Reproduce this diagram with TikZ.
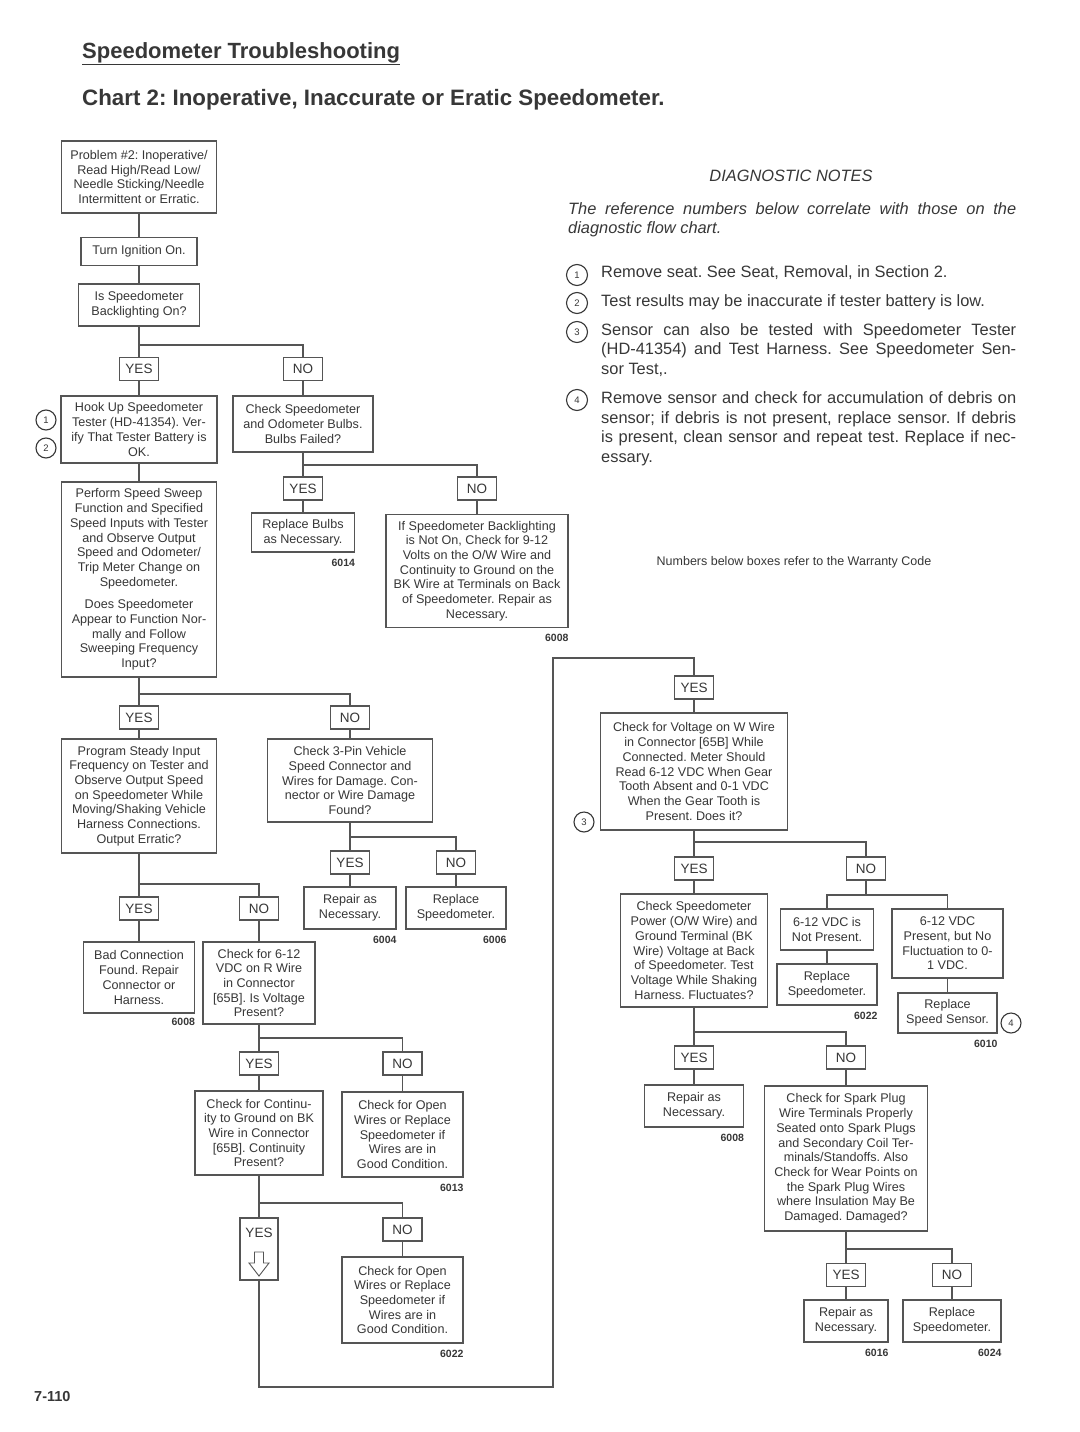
\documentclass[tikz,border=0pt]{standalone}
\usepackage{fontspec}
\setmainfont{Liberation Sans}
\usetikzlibrary{calc}
\frenchspacing
\definecolor{ink}{RGB}{55,55,55}
\definecolor{wire}{RGB}{85,85,85}
\newcommand{\bxf}{\fontsize{12.6}{14.7}\selectfont}
\newcommand{\ntf}{\fontsize{16.4}{19.7}\selectfont}
\newcommand{\jl}[1]{\makebox[415pt][s]{#1}}
\begin{document}
\frenchspacing
\begin{tikzpicture}[x=1pt,y=-1pt,
  box/.style={draw=wire, line width=1.4pt, rectangle, inner sep=0pt, align=center, font=\bxf, text=ink},
  yn/.style={draw=wire, line width=1.4pt, rectangle, inner sep=0pt, minimum width=39pt, minimum height=23pt, font=\fontsize{13.5}{15}\selectfont, text=ink},
  wcode/.style={font=\bfseries\fontsize{10.5}{12}\selectfont, text=ink, inner sep=0pt, anchor=north east},
  refc/.style={circle, draw=ink, line width=1.1pt, minimum size=20pt, inner sep=0pt, font=\fontsize{9.5}{9.5}\selectfont, text=ink},
  conn/.style={draw=wire, line width=1.4pt},
  note/.style={anchor=north west, inner sep=0pt, align=left, font=\ntf, text=ink}]
\useasboundingbox[fill=white] (0,0) rectangle (1079,1432);

% titles
\node[anchor=base west, inner sep=0pt, font=\bfseries\fontsize{22}{25}\selectfont, text=ink] (title) at (82,58) {\underline{Speedometer Troubleshooting}};
\node[anchor=base west, inner sep=0pt, font=\bfseries\fontsize{22.3}{26}\selectfont, text=ink] (chart) at (82,105) {Chart 2: Inoperative, Inaccurate or Eratic Speedometer.};
\node[anchor=base west, inner sep=0pt, font=\bfseries\fontsize{14.5}{16}\selectfont, text=ink] (page) at (34,1401) {7-110};

% notes
\node[font=\ntf\itshape, text=ink, inner sep=0pt] (dn) at (791,176) {DIAGNOSTIC NOTES};
\node[note, font=\ntf\itshape] (intro) at (568,202) {\makebox[448pt][s]{The reference numbers below correlate with those on the}\\diagnostic flow chart.};
\node[refc, minimum size=21pt] (nr1) at (577,275) {1};
\node[refc, minimum size=21pt] (nr2) at (577,303) {2};
\node[refc, minimum size=21pt] (nr3) at (577,332) {3};
\node[refc, minimum size=21pt] (nr4) at (577,400) {4};
\node[note] (t1) at (601,265.5) {Remove seat. See Seat, Removal, in Section 2.};
\node[note] (t2) at (601,294) {Test results may be inaccurate if tester battery is low.};
\node[note] (t3) at (601,323) {\jl{Sensor can also be tested with Speedometer Tester}\\\jl{(HD-41354) and Test Harness. See Speedometer Sen-}\\sor Test,.};
\node[note] (t4) at (601,391.5) {\jl{Remove sensor and check for accumulation of debris on}\\\jl{sensor; if debris is not present, replace sensor. If debris}\\\jl{is present, clean sensor and repeat test. Replace if nec-}\\essary.};
\node[font=\fontsize{12.5}{14}\selectfont, text=ink, inner sep=0pt] (warr) at (794,562) {Numbers below boxes refer to the Warranty Code};

% left column
\node[box, minimum width=155pt, minimum height=72pt] (b1) at (139,177) {Problem \#2: Inoperative/\\Read High/Read Low/\\Needle Sticking/Needle\\Intermittent or Erratic.};
\node[box, minimum width=116pt, minimum height=28pt] (b2) at (139,251.5) {Turn Ignition On.};
\node[box, minimum width=121pt, minimum height=42pt] (b3) at (139,305) {Is Speedometer\\Backlighting On?};
\node[yn] (y1) at (139,369) {YES};
\node[yn] (n1) at (303,369) {NO};
\node[box, minimum width=156pt, minimum height=67pt] (b4) at (139,429.5) {Hook Up Speedometer\\Tester (HD-41354). Ver-\\ify That Tester Battery is\\OK.};
\node[refc] (r1) at (46,420) {1};
\node[refc] (r2) at (46,448) {2};
\node[box, minimum width=140pt, minimum height=56pt] (b5) at (303,424) {Check Speedometer\\and Odometer Bulbs.\\Bulbs Failed?};
\node[yn] (y2) at (303,488.5) {YES};
\node[yn] (n2) at (477,488.5) {NO};
\node[box, minimum width=103pt, minimum height=39pt] (b6) at (303,532.5) {Replace Bulbs\\as Necessary.};
\node[wcode] (k1) at ([yshift=-6pt]b6.south east) {6014};
\node[box, minimum width=182pt, minimum height=113pt] (b7) at (477,571) {If Speedometer Backlighting\\is Not On, Check for 9-12\\Volts on the O/W Wire and\\Continuity to Ground on the\\BK Wire at Terminals on Back\\of Speedometer. Repair as\\Necessary.};
\node[wcode] (k2) at ([yshift=-6pt]b7.south east) {6008};
\node[box, minimum width=155pt, minimum height=195pt] (b8) at (139,579.5) {Perform Speed Sweep\\Function and Specified\\Speed Inputs with Tester\\and Observe Output\\Speed and Odometer/\\Trip Meter Change on\\Speedometer.\\[8pt]Does Speedometer\\Appear to Function Nor-\\mally and Follow\\Sweeping Frequency\\Input?};
\node[yn] (y3) at (139,717.5) {YES};
\node[yn] (n3) at (350,717.5) {NO};
\node[box, minimum width=155pt, minimum height=114pt] (b9) at (139,796) {Program Steady Input\\Frequency on Tester and\\Observe Output Speed\\on Speedometer While\\Moving/Shaking Vehicle\\Harness Connections.\\Output Erratic?};
\node[box, minimum width=165pt, minimum height=83pt] (b10) at (350,780.5) {Check 3-Pin Vehicle\\Speed Connector and\\Wires for Damage. Con-\\nector or Wire Damage\\Found?};
\node[yn] (y4) at (350,862.5) {YES};
\node[yn] (n4) at (456,862.5) {NO};
\node[box, minimum width=92pt, minimum height=42pt] (b11) at (350,908) {Repair as\\Necessary.};
\node[wcode] (k3) at ([yshift=-6pt]b11.south east) {6004};
\node[box, minimum width=100pt, minimum height=42pt] (b12) at (456,908) {Replace\\Speedometer.};
\node[wcode] (k4) at ([yshift=-6pt]b12.south east) {6006};
\node[yn] (y5) at (139,908.5) {YES};
\node[yn] (n5) at (259,908.5) {NO};
\node[box, minimum width=111pt, minimum height=71pt] (b13) at (139,977.5) {Bad Connection\\Found. Repair\\Connector or\\Harness.};
\node[wcode] (k5) at ([yshift=-4pt]b13.south east) {6008};
\node[box, minimum width=112pt, minimum height=82pt] (b14) at (259,983) {Check for 6-12\\VDC on R Wire\\in Connector\\{[65B]}. Is Voltage\\Present?};
\node[yn] (y6) at (259,1063.5) {YES};
\node[yn] (n6) at (402.5,1063.5) {NO};
\node[box, minimum width=128pt, minimum height=84pt] (b15) at (259,1133) {Check for Continu-\\ity to Ground on BK\\Wire in Connector\\{[65B]}. Continuity\\Present?};
\node[box, minimum width=121pt, minimum height=85pt] (b16) at (402.5,1134.5) {Check for Open\\Wires or Replace\\Speedometer if\\Wires are in\\Good Condition.};
\node[wcode] (k6) at ([yshift=-6pt]b16.south east) {6013};
\node[draw=wire, line width=1.4pt, rectangle, inner sep=0pt, minimum width=38pt, minimum height=62pt] (y7) at (259,1249) {};
\node[font=\fontsize{13.5}{15}\selectfont, text=ink, inner sep=0pt] (y7t) at (259,1233) {YES};
\draw[draw=wire, line width=0.9pt, line join=miter] ($(y7.center)+(-4.5,3)$) -- ++(9,0) -- ++(0,11) -- ++(5.5,0) -- ($(y7.center)+(0,27)$) -- ($(y7.center)+(-10,14)$) -- ++(5.5,0) -- cycle;
\node[yn] (n7) at (402.5,1229.5) {NO};
\node[box, minimum width=121pt, minimum height=86pt] (b17) at (402.5,1300) {Check for Open\\Wires or Replace\\Speedometer if\\Wires are in\\Good Condition.};
\node[wcode] (k7) at ([yshift=-6pt]b17.south east) {6022};

% right column
\coordinate (lb) at (553,1387);
\coordinate (lt) at (553,658);
\node[yn] (y8) at (694,687.5) {YES};
\node[box, minimum width=187pt, minimum height=117pt] (b18) at (694,771.5) {Check for Voltage on W Wire\\in Connector [65B] While\\Connected. Meter Should\\Read 6-12 VDC When Gear\\Tooth Absent and 0-1 VDC\\When the Gear Tooth is\\Present. Does it?};
\node[refc] (r3) at (584,822) {3};
\node[yn] (y9) at (694,868.5) {YES};
\node[yn] (n9) at (866,868.5) {NO};
\node[box, minimum width=147pt, minimum height=113pt] (b19) at (694,950.5) {Check Speedometer\\Power (O/W Wire) and\\Ground Terminal (BK\\Wire) Voltage at Back\\of Speedometer. Test\\Voltage While Shaking\\Harness. Fluctuates?};
\node[box, minimum width=93pt, minimum height=41pt] (b20) at (827,929.5) {6-12 VDC is\\Not Present.};
\node[box, minimum width=100pt, minimum height=41pt] (b21) at (827,984.5) {Replace\\Speedometer.};
\node[wcode] (k8) at ([yshift=-6pt]b21.south east) {6022};
\node[box, minimum width=111pt, minimum height=69pt] (b22) at (947.5,943.5) {6-12 VDC\\Present, but No\\Fluctuation to 0-\\1 VDC.};
\node[box, minimum width=99pt, minimum height=40pt] (b23) at (947.5,1013) {Replace\\Speed Sensor.};
\node[wcode] (k9) at ([yshift=-6pt]b23.south east) {6010};
\node[refc] (r4) at (1011,1023) {4};
\node[yn] (y10) at (694,1057.5) {YES};
\node[yn] (n10) at (846,1057.5) {NO};
\node[box, minimum width=99pt, minimum height=42pt] (b24) at (694,1106) {Repair as\\Necessary.};
\node[wcode] (k10) at ([yshift=-6pt]b24.south east) {6008};
\node[box, minimum width=163pt, minimum height=145pt] (b25) at (846,1158.5) {Check for Spark Plug\\Wire Terminals Properly\\Seated onto Spark Plugs\\and Secondary Coil Ter-\\minals/Standoffs. Also\\Check for Wear Points on\\the Spark Plug Wires\\where Insulation May Be\\Damaged. Damaged?};
\node[yn] (y11) at (846,1275) {YES};
\node[yn] (n11) at (952,1275) {NO};
\node[box, minimum width=84pt, minimum height=42pt] (b26) at (846,1321) {Repair as\\Necessary.};
\node[wcode] (k11) at ([yshift=-6pt]b26.south east) {6016};
\node[box, minimum width=98pt, minimum height=42pt] (b27) at (952,1321) {Replace\\Speedometer.};
\node[wcode] (k12) at ([yshift=-6pt]b27.south east) {6024};

% connectors
\draw[conn] (b1.south) -- (b2.north);
\draw[conn] (b2.south) -- (b3.north);
\draw[conn] (b3.south) -- (y1.north);
\draw[conn] (b3.south |- 0,345) -| (n1.north);
\draw[conn] (y1.south) -- (b4.north);
\draw[conn] (n1.south) -- (b5.north);
\draw[conn] (b5.south) -- (y2.north);
\draw[conn] (b5.south |- 0,465) -| (n2.north);
\draw[conn] (y2.south) -- (b6.north);
\draw[conn] (n2.south) -- (b7.north);
\draw[conn] (b4.south) -- (b8.north);
\draw[conn] (b8.south) -- (y3.north);
\draw[conn] (b8.south |- 0,694) -| (n3.north);
\draw[conn] (y3.south) -- (b9.north);
\draw[conn] (n3.south) -- (b10.north);
\draw[conn] (b10.south) -- (y4.north);
\draw[conn] (b10.south |- 0,837) -| (n4.north);
\draw[conn] (y4.south) -- (b11.north);
\draw[conn] (n4.south) -- (b12.north);
\draw[conn] (b9.south) -- (y5.north);
\draw[conn] (b9.south |- 0,884) -| (n5.north);
\draw[conn] (y5.south) -- (b13.north);
\draw[conn] (n5.south) -- (b14.north);
\draw[conn] (b14.south) -- (y6.north);
\draw[conn] (b14.south |- 0,1038) -| (n6.north);
\draw[conn] (y6.south) -- (b15.north);
\draw[conn] (n6.south) -- (b16.north);
\draw[conn] (b15.south) -- (y7.north);
\draw[conn] (b15.south |- 0,1203) -| (n7.north);
\draw[conn] (n7.south) -- (b17.north);
\draw[conn] (y7.south) |- (lb) -- (lt) -| (y8.north);
\draw[conn] (y8.south) -- (b18.north);
\draw[conn] (b18.south) -- (y9.north);
\draw[conn] (b18.south |- 0,842) -| (n9.north);
\draw[conn] (y9.south) -- (b19.north);
\draw[conn] (n9.south) -- (n9.south |- 0,895);
\draw[conn] (b20.north) -- (b20.north |- 0,895) -- (b22.north |- 0,895) -- (b22.north);
\draw[conn] (b20.south) -- (b21.north);
\draw[conn] (b22.south) -- (b23.north);
\draw[conn] (b19.south) -- (y10.north);
\draw[conn] (b19.south |- 0,1032) -| (n10.north);
\draw[conn] (y10.south) -- (b24.north);
\draw[conn] (n10.south) -- (b25.north);
\draw[conn] (b25.south) -- (y11.north);
\draw[conn] (b25.south |- 0,1249) -| (n11.north);
\draw[conn] (y11.south) -- (b26.north);
\draw[conn] (n11.south) -- (b27.north);
\end{tikzpicture}
\end{document}
